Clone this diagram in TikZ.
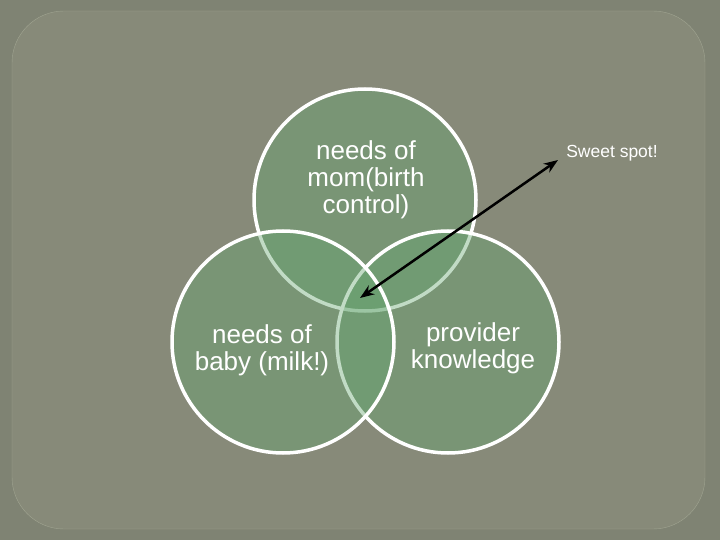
\documentclass[tikz,border=0pt]{standalone}
\usepackage{fontspec}
\setmainfont{Liberation Sans}
\usepackage{xcolor}
\usetikzlibrary{positioning,arrows.meta}

\definecolor{slate}{RGB}{127,131,115}
\definecolor{panel}{RGB}{135,138,121}
\definecolor{rim}{RGB}{160,164,145}
\definecolor{leaf}{RGB}{102,166,112}

\begin{document}
\begin{tikzpicture}[x=1pt, y=-1pt, >=Stealth,
    bubble/.style={circle, draw=white, line width=3.5pt, fill=leaf,
      fill opacity=0.4, minimum size=222pt, inner sep=0pt},
    words/.style={text=white, align=center,
      font=\fontsize{26}{27}\selectfont}]
  \useasboundingbox (0,0) rectangle (720,540);
  \fill[slate] (0,0) rectangle (720,540);
  \draw[rim, fill=panel, rounded corners=52pt] (12,11) rectangle (705,529);

  % the three circles
  \node[bubble] (mom) at (365,200) {};
  \node[bubble] (provider) at (448,342) {};
  \node[bubble] (baby) at (283,342) {};

  \node[words] (momtext) at (366,180) {needs of\\mom(birth\\control)};
  \node[words] (babytext) at (262,350) {needs of\\baby (milk!)};
  \node[words] (providertext) at (473,348) {provider\\knowledge};

  \node[text=white, font=\fontsize{17.5}{20}\selectfont] (sweet) at (612,153) {Sweet spot!};
  \coordinate (tip) at (558,160);
  \coordinate (spot) at (360,298);
  \draw[<->, line width=2.5pt] (tip) -- (spot);
\end{tikzpicture}
\end{document}
